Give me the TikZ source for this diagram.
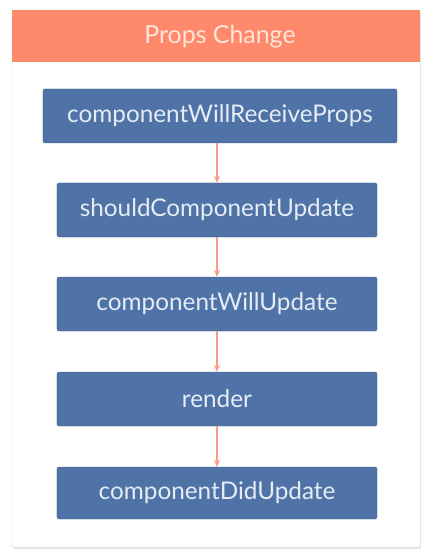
\documentclass[tikz,border=0pt]{standalone}
\usepackage{fontspec}
\setmainfont{Lato}
\usepackage{tikz}
\usetikzlibrary{arrows.meta,positioning}
\definecolor{hdr}{HTML}{FE8A6B}
\definecolor{hdrtext}{HTML}{FFE4DA}
\definecolor{stepblue}{HTML}{4F73A7}
\definecolor{steptext}{HTML}{E6ECF5}
\definecolor{flow}{HTML}{FB9A86}

\begin{document}
\begin{tikzpicture}[x=1bp, y=-1bp,
		stepbox/.style={rectangle, rounded corners=2bp, fill=stepblue, draw=stepblue!85!black, line width=0.4bp,
			text=steptext, font=\fontsize{24.4}{28}\selectfont, minimum width=320bp, minimum height=54bp, inner sep=0pt},
		flowline/.style={-{Stealth[length=7bp, width=6bp]}, draw=flow, fill=flow, line width=1.2bp},
		]
	
		\useasboundingbox (0,0) rectangle (432,560);
		\fill[black!10, rounded corners=2bp] (13,12) rectangle (421,549);
		\draw[black!15, fill=white, rounded corners=2bp] (12,10) rectangle (420,547);
		\fill[hdr] (12,10) rectangle (420,62);
		\node[text=hdrtext, font=\fontsize{25}{29}\selectfont] (title) at (220,37) {Props Change};
	
		\node[stepbox, minimum width=354bp] (receive) at (220,116) {componentWillReceiveProps};
		\node[stepbox] (should) at (217,210) {shouldComponentUpdate};
		\node[stepbox] (willupd) at (217,304) {componentWillUpdate};
		\node[stepbox] (render) at (217,399) {render};
		\node[stepbox, minimum height=52bp] (didupd) at (217,493) {componentDidUpdate};
	
		\draw[flowline] (receive.south -| should.north) -- (should.north);
		\draw[flowline] (should) -- (willupd);
		\draw[flowline] (willupd) -- (render);
		\draw[flowline] (render) -- (didupd);
	
	\end{tikzpicture}
\end{document}
